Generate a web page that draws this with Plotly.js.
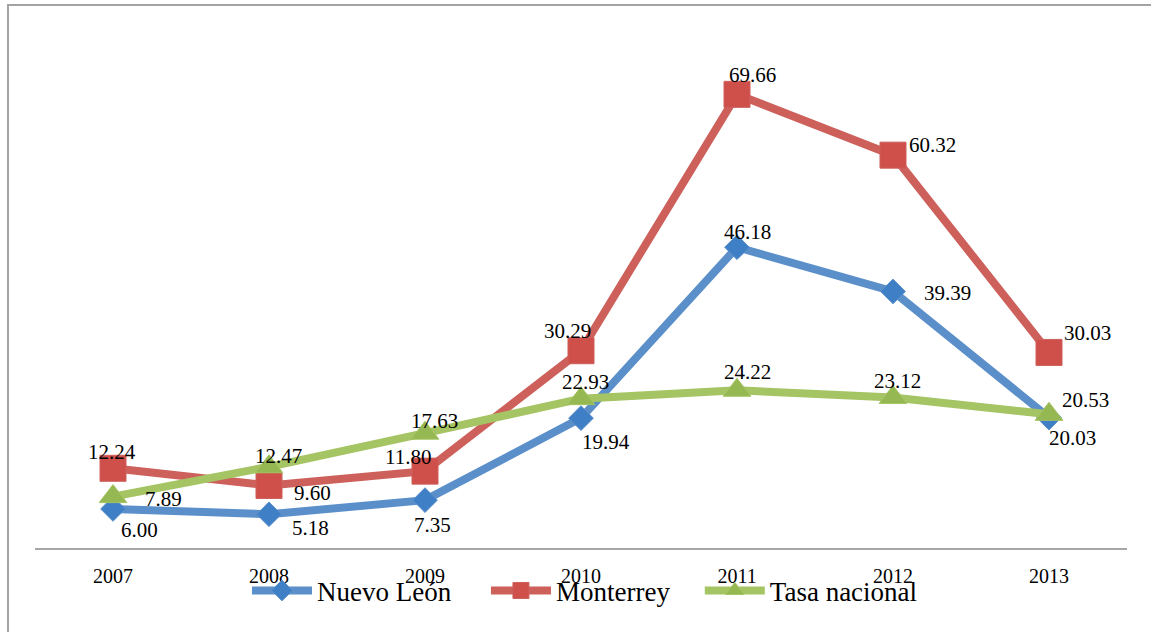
<!DOCTYPE html>
<html>
<head>
<meta charset="utf-8">
<script src="https://cdn.plot.ly/plotly-3.0.1.min.js"></script>
<style>
  html, body { margin: 0; padding: 0; background: #ffffff; overflow: hidden; }
  #wrap { position: relative; width: 1151px; height: 632px; overflow: hidden; }
  #frame { position: absolute; left: 7px; top: 4px; width: 1300px; height: 800px;
           border: 2px solid #a3a3a3; box-sizing: border-box; }
  #chart { position: absolute; left: 0; top: 0; width: 1151px; height: 632px; }
</style>
</head>
<body>
<div id="wrap">
  <div id="frame"></div>
  <div id="chart"></div>
</div>
<script>
// Years on the category axis
const years = ['2007', '2008', '2009', '2010', '2011', '2012', '2013'];

// Rates per series
const nuevoLeon = [6.00, 5.18, 7.35, 19.94, 46.18, 39.39, 20.03];
const monterrey = [12.24, 9.60, 11.80, 30.29, 69.66, 60.32, 30.03];
const tasaNacional = [7.89, 12.47, 17.63, 22.93, 24.22, 23.12, 20.53];

const seriesNames = ['Nuevo León', 'Monterrey', 'Tasa nacional'];

// Label offsets in pixels [dx, dy-down] so the value labels do not collide
const offsetsNL = [[26, 21], [41, 14], [7, 25], [25, 24], [10, -15], [54, 2], [23, 20]];
const offsetsMty = [[-1, -16], [43, 8], [-17, -14], [-14, -20], [15, -19], [39, -10], [38, -19]];
const offsetsTasa = [[50, 2], [9, -11], [9, -12], [4, -17], [10, -18], [4, -16], [36, -14]];

const serif = 'Liberation Serif, Times New Roman, serif';

const styles = [
  { line: '#5a8fca', marker: '#3f7fc6', symbol: 'diamond', size: 19, legend: 'legend', lx: 0.2146 },
  { line: '#cd605b', marker: '#cf4f4a', symbol: 'square', size: 26, legend: 'legend2', lx: 0.4222 },
  { line: '#a5c463', marker: '#95b852', symbol: 'triangle-up', size: 24, legend: 'legend3', lx: 0.608 }
];

const allValues = [nuevoLeon, monterrey, tasaNacional];
const allOffsets = [offsetsNL, offsetsMty, offsetsTasa];

const traces = allValues.map((vals, i) => ({
  type: 'scatter',
  mode: 'lines+markers',
  name: seriesNames[i],
  legend: styles[i].legend,
  x: years,
  y: vals,
  line: { color: styles[i].line, width: 8 },
  marker: {
    symbol: styles[i].symbol,
    size: styles[i].size,
    color: styles[i].marker,
    line: { color: styles[i].line, width: 1 }
  },
  hoverinfo: 'x+y+name'
}));

const annotations = [];
allValues.forEach((vals, i) => {
  vals.forEach((v, j) => {
    annotations.push({
      x: j,
      y: v,
      xref: 'x',
      yref: 'y',
      text: v.toFixed(2),
      showarrow: false,
      xanchor: 'center',
      yanchor: 'middle',
      xshift: allOffsets[i][j][0],
      yshift: -allOffsets[i][j][1],
      font: { family: serif, size: 21, color: '#000000' }
    });
  });
});

function legendBox(x) {
  return {
    orientation: 'h',
    xref: 'container',
    yref: 'container',
    x: x,
    xanchor: 'left',
    y: 0.065,
    yanchor: 'middle',
    font: { family: serif, size: 27, color: '#000000' },
    itemwidth: 60,
    bgcolor: 'rgba(0,0,0,0)'
  };
}

const layout = {
  width: 1151,
  height: 632,
  margin: { l: 35, r: 24, t: 27, b: 84, pad: 0 },
  paper_bgcolor: 'rgba(0,0,0,0)',
  plot_bgcolor: 'rgba(0,0,0,0)',
  showlegend: true,
  legend: legendBox(styles[0].lx),
  legend2: legendBox(styles[1].lx),
  legend3: legendBox(styles[2].lx),
  xaxis: {
    type: 'category',
    range: [-0.5, 6.5],
    showgrid: false,
    zeroline: false,
    showline: true,
    linecolor: '#a6a6a6',
    linewidth: 2,
    ticks: 'outside',
    ticklen: 9,
    tickcolor: 'rgba(0,0,0,0)',
    tickfont: { family: serif, size: 20, color: '#000000' },
    fixedrange: true
  },
  yaxis: {
    range: [0, 80],
    showticklabels: false,
    showline: false,
    showgrid: false,
    zeroline: false,
    ticks: '',
    fixedrange: true
  },
  annotations: annotations
};

Plotly.newPlot('chart', traces, layout, { displayModeBar: false, staticPlot: true });
</script>
</body>
</html>
